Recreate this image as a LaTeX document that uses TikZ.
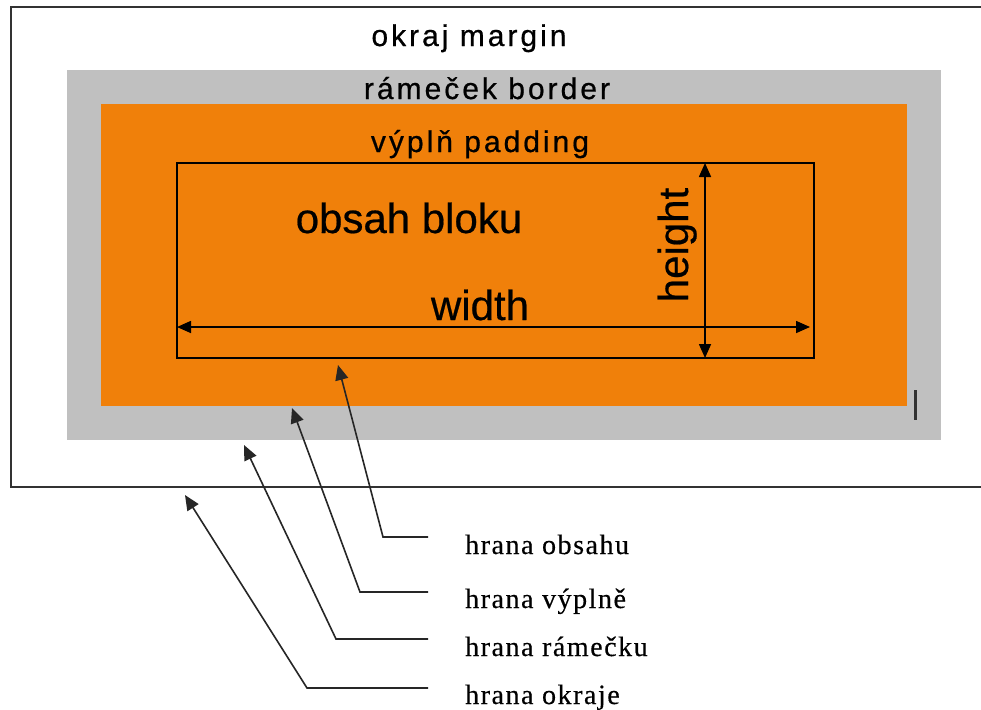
\documentclass[tikz,border=0pt]{standalone}
\usepackage{fontspec}
\setmainfont{Liberation Serif}
\setsansfont{Liberation Sans}
\newfontfamily\arialsp[LetterSpace=10,FakeBold=0.6]{Liberation Sans}
\newfontfamily\arialbig[FakeBold=0.5]{Liberation Sans}
\newfontfamily\timessp[LetterSpace=5.5,FakeBold=0.4]{Liberation Serif}
\usetikzlibrary{arrows.meta}
\definecolor{boxorange}{RGB}{240,128,10}
\definecolor{boxgray}{RGB}{192,192,192}
\definecolor{edgegray}{RGB}{50,50,50}
\begin{document}
\begin{tikzpicture}[x=1pt,y=-1pt,
  midtext/.style={font=\arialsp\fontsize{30}{36}\selectfont, inner sep=0pt, anchor=base},
  bigtext/.style={font=\arialbig\fontsize{42}{50}\selectfont, inner sep=0pt, anchor=base},
  lbltext/.style={font=\timessp\fontsize{28}{34}\selectfont, inner sep=0pt, anchor=base west},
  dimarrow/.style={line width=1.6pt, {Triangle[length=14pt,width=12pt]}-{Triangle[length=14pt,width=12pt]}},
  leader/.style={line width=1.6pt, draw=black!85, -{Triangle[length=15pt,width=13pt]}}]
\useasboundingbox (0,0) rectangle (981,709);
\fill[white] (0,0) rectangle (981,709);
\begin{scope}
\clip (0,0) rectangle (981,709);
\draw[edgegray, line width=2.5pt] (11,7) rectangle (1000,487);
\end{scope}
\fill[boxgray] (67,70) rectangle (941,440);
\fill[boxorange] (101,104) rectangle (907,406);
\draw[line width=1.6pt] (177,163) rectangle (814,358);
\fill[edgegray] (913.5,390) rectangle (916.5,420);

\node[midtext] (margin) at (469,46) {okraj margin};
\node[midtext] (border) at (487,99) {rámeček border};
\node[midtext] (padding) at (480,152) {výplň padding};
\node[bigtext] (content) at (409,233) {obsah bloku};
\node[bigtext] (wlabel) at (480,320) {width};
\node[bigtext, rotate=90] (hlabel) at (688,245) {height};

\coordinate (wl) at (177,327);
\coordinate (wr) at (810,327);
\coordinate (ht) at (705,163);
\coordinate (hb) at (705,358);
\draw[dimarrow] (wl) -- (wr);
\draw[dimarrow] (ht) -- (hb);

\node[lbltext] (l1) at (465,554) {hrana obsahu};
\node[lbltext] (l2) at (465,608) {hrana výplně};
\node[lbltext] (l3) at (465,656) {hrana rámečku};
\node[lbltext] (l4) at (465,704) {hrana okraje};

\coordinate (s1) at (428,537); \coordinate (k1) at (383,537); \coordinate (t1) at (338,365);
\coordinate (s2) at (428,592); \coordinate (k2) at (360,592); \coordinate (t2) at (292,408);
\coordinate (s3) at (428,639); \coordinate (k3) at (336,639); \coordinate (t3) at (244,445);
\coordinate (s4) at (428,688); \coordinate (k4) at (307,688); \coordinate (t4) at (185,495);
\draw[leader] (s1) -- (k1) -- (t1);
\draw[leader] (s2) -- (k2) -- (t2);
\draw[leader] (s3) -- (k3) -- (t3);
\draw[leader] (s4) -- (k4) -- (t4);
\end{tikzpicture}
\end{document}
